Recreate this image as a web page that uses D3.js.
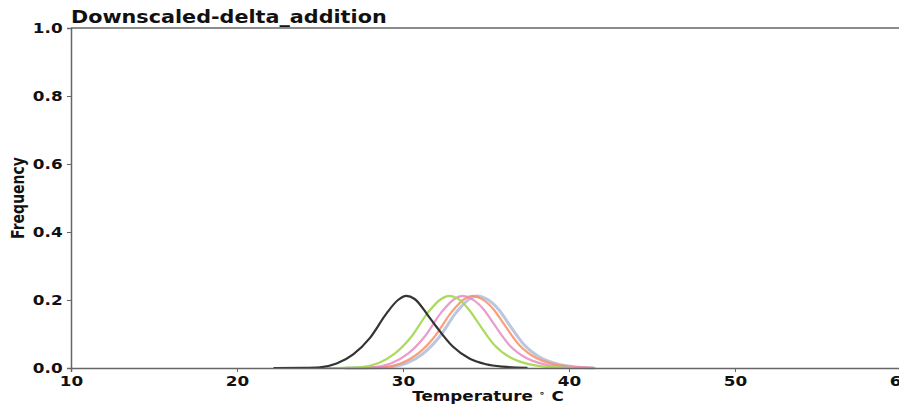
<!DOCTYPE html>
<html>
<head>
<meta charset="utf-8">
<script src="https://cdn.jsdelivr.net/npm/d3@7/dist/d3.min.js"></script>
<style>
  body { margin: 0; background: #fff; }
  text { font-family: 'DejaVu Sans', sans-serif; font-weight: bold; fill: #111; }
</style>
</head>
<body>
<svg id="chart" width="899" height="409"></svg>
<script>
// chart text
var title = 'Downscaled-delta_addition';
var xLabel = 'Temperature';
var yLabel = 'Frequency';

// axis ticks
var xTicks = [10, 20, 30, 40, 50, 60];
var yTicks = [0.0, 0.2, 0.4, 0.6, 0.8, 1.0];

// series: temperature (C) and frequency
var obsTemp   = [22.2, 24, 25, 26, 27, 28, 29, 29.7, 30.2, 30.7, 31.5, 32, 33, 34, 35, 36, 37.5];
var obsFreq   = [0, 0.0005, 0.002, 0.013, 0.040, 0.088, 0.160, 0.200, 0.212, 0.203, 0.155, 0.122, 0.063, 0.028, 0.011, 0.004, 0.0005];

var greenTemp = [24.8, 26.5, 27.5, 28.5, 29.5, 30.5, 31.5, 32.3, 32.8, 33.3, 34, 34.5, 35.5, 36.5, 37.5, 38.5, 40.3];
var pinkTemp  = [25.6, 27.3, 28.3, 29.3, 30.3, 31.3, 32.3, 33.1, 33.6, 34.1, 34.9, 35.4, 36.4, 37.4, 38.4, 39.4, 41.6];
var orangeTemp = [26.2, 27.9, 28.9, 29.9, 30.9, 31.9, 32.9, 33.7, 34.2, 34.7, 35.5, 36, 37, 38, 39, 40, 41.5];
var blueTemp  = [26.5, 28.2, 29.2, 30.2, 31.2, 32.2, 33.2, 34.0, 34.5, 35.0, 35.8, 36.3, 37.3, 38.3, 39.3, 40.3, 41.5];
var modelFreq = [0, 0.0008, 0.003, 0.014, 0.042, 0.092, 0.163, 0.203, 0.212, 0.204, 0.170, 0.135, 0.068, 0.030, 0.012, 0.004, 0];

var series = [
  { name: 'blue',   temp: blueTemp,   freq: modelFreq, color: '#8da0cb', width: 3,   opacity: 0.6 },
  { name: 'orange', temp: orangeTemp, freq: modelFreq, color: '#fc8d62', width: 2.2, opacity: 0.85 },
  { name: 'pink',   temp: pinkTemp,   freq: modelFreq, color: '#e78ac3', width: 2.2, opacity: 0.85 },
  { name: 'green',  temp: greenTemp,  freq: modelFreq, color: '#a6d854', width: 2.2, opacity: 0.95 },
  { name: 'obs',    temp: obsTemp,    freq: obsFreq,   color: '#333333', width: 2.2, opacity: 1 }
];

// the source image is stretched sideways, so text gets a horizontal scale
var stretch = 1.2;

var margin = { left: 71, top: 28, right: 901, bottom: 368 };

var svg = d3.select('#chart');

var x = d3.scaleLinear().domain([10, 60]).range([margin.left, margin.right]);
var y = d3.scaleLinear().domain([0, 1]).range([margin.bottom, margin.top]);

var line = d3.line()
  .x(function (d) { return x(d[0]); })
  .y(function (d) { return y(d[1]); })
  .curve(d3.curveMonotoneX);

// curves
svg.append('g').attr('class', 'curves').selectAll('path')
  .data(series)
  .enter().append('path')
  .attr('fill', 'none')
  .attr('stroke', function (d) { return d.color; })
  .attr('stroke-width', function (d) { return d.width; })
  .attr('stroke-opacity', function (d) { return d.opacity; })
  .attr('d', function (d) { return line(d3.zip(d.temp, d.freq)); });

// spines (right one falls off the page)
var spines = svg.append('g').attr('class', 'spines')
  .attr('stroke', '#666').attr('stroke-width', 1.5);
spines.append('line').attr('x1', margin.left).attr('x2', margin.right).attr('y1', margin.top).attr('y2', margin.top);
spines.append('line').attr('x1', margin.right).attr('x2', margin.right).attr('y1', margin.top).attr('y2', margin.bottom);

// axes
var xAxis = svg.append('g')
  .attr('transform', 'translate(0,' + margin.bottom + ')')
  .call(d3.axisBottom(x).tickValues(xTicks).tickSize(4).tickPadding(4).tickFormat(d3.format('d')));

var yAxis = svg.append('g')
  .attr('transform', 'translate(' + margin.left + ',0)')
  .call(d3.axisLeft(y).tickValues(yTicks).tickSize(4).tickPadding(3).tickFormat(d3.format('.1f')));

[xAxis, yAxis].forEach(function (a) {
  a.select('.domain').attr('stroke', '#666').attr('stroke-width', 1.5);
  a.selectAll('.tick line').attr('stroke', '#666');
  a.selectAll('.tick text')
    .style('font-size', '14px')
    .attr('fill', '#111')
    .attr('transform', 'scale(' + stretch + ',1)');
});

// title
svg.append('text')
  .attr('transform', 'translate(71,23) scale(1.22,1)')
  .style('font-size', '17px')
  .text(title);

// x label with superscript degree
var xl = svg.append('text')
  .attr('transform', 'translate(488,401) scale(' + stretch + ',1)')
  .attr('text-anchor', 'middle')
  .style('font-size', '14px');
xl.append('tspan').text(xLabel + '  ');
xl.append('tspan').attr('dy', -5).style('font-size', '9px').text('\u2218');
xl.append('tspan').attr('dy', 5).text(' C');

// y label
svg.append('text')
  .attr('transform', 'translate(24,198) scale(' + stretch + ',1) rotate(-90)')
  .attr('text-anchor', 'middle')
  .style('font-size', '14px')
  .text(yLabel);
</script>
</body>
</html>
